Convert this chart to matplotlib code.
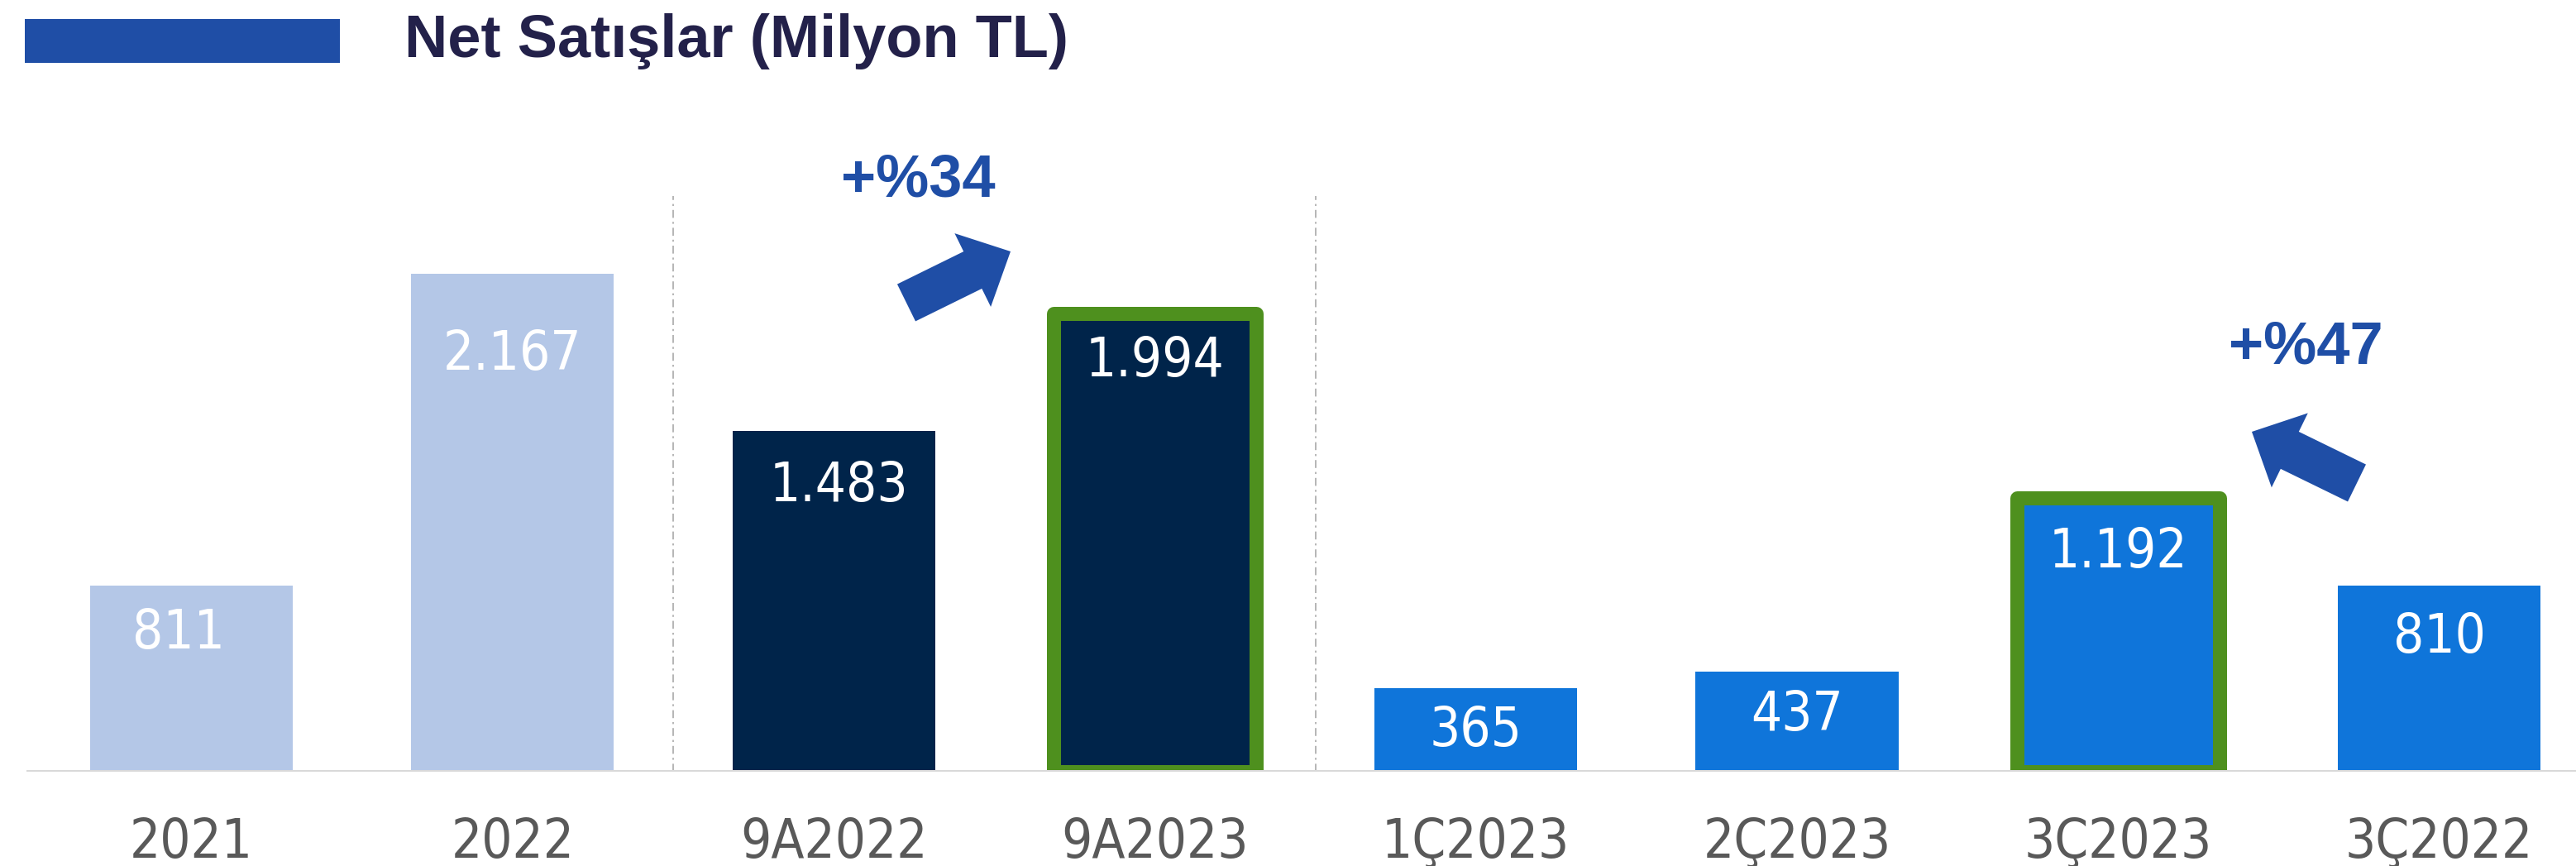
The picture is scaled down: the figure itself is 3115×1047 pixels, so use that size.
import matplotlib
matplotlib.use("Agg")
import matplotlib.pyplot as plt
from matplotlib.patches import FancyArrow, Rectangle
from matplotlib.transforms import IdentityTransform

# veriler
kategoriler = ["2021", "2022", "9A2022", "9A2023", "1Ç2023", "2Ç2023", "3Ç2023", "3Ç2022"]
satislar = [811, 2167, 1483, 1994, 365, 437, 1192, 810]
etiketler = ["811", "2.167", "1.483", "1.994", "365", "437", "1.192", "810"]
vurgulu = [False, False, False, True, False, False, True, False]
artis_1 = "+%34"
artis_2 = "+%47"
baslik = "Net Satışlar (Milyon TL)"

renkler = ["#b4c7e7", "#b4c7e7", "#00244a", "#00244a",
           "#0f75da", "#0f75da", "#0f75da", "#0f75da"]

W, H = 3115, 1047
fig = plt.figure(figsize=(W / 100, H / 100), dpi=100)
fig.patch.set_facecolor("white")

taban = 933          # px, sifir cizgisi
olcek = 0.2776       # px / birim
adim = 388.3         # px, cubuklar arasi
ilk = 231.5          # px, ilk cubugun merkezi

ax = fig.add_axes([0, (H - taban) / H, 1, taban / H])
ax.set_xlim(-ilk / adim, (W - ilk) / adim)
ax.set_ylim(0, taban / olcek)
for s in ax.spines.values():
    s.set_visible(False)
ax.set_yticks([])

x = list(range(len(kategoriler)))
px = 72 / 100  # 1 piksel = 0.72 pt
kenar = ["#4e901e" if v else "none" for v in vurgulu]
kalin = [17 * px if v else 0 for v in vurgulu]
cubuklar = ax.bar(x, satislar, width=0.631, color=renkler,
                  edgecolor=kenar, linewidth=kalin, zorder=2)
for c in cubuklar:
    c.set_joinstyle("round")

# taban cizgisi
ax.axhline(0, xmin=34 / W, xmax=1, color="#d9d9d9", lw=5 * px, zorder=4)

# kesikli ayiraclar
ax.vlines([1.5, 3.5], 0, 2507, colors="#a6a6a6", lw=1.6 * px,
          linestyles=(0, (6, 3, 1.5, 3)), zorder=1)

yazi = dict(family="DejaVu Sans", fontstretch="condensed")

# deger etiketleri
dusus = [52, 92, 61, 52, 46, 47, 60, 57]
kayma = [-16, 0, 6, 0, 0, 0, 0, 0]
for i, (v, e) in enumerate(zip(satislar, etiketler)):
    ax.annotate(e, (i, v), xytext=(kayma[i], -(dusus[i] + 24)),
                textcoords="offset pixels", ha="center", va="baseline",
                color="white", fontsize=47, zorder=5, **yazi)

ax.set_xticks(x)
ax.set_xticklabels(kategoriler, color="#595959", fontsize=47, **yazi)
ax.tick_params(axis="x", length=0, pad=39)

# baslik
fig.add_artist(Rectangle((30 / W, 1 - 76 / H), 381 / W, 53 / H,
                         transform=fig.transFigure, color="#1f4ea6", lw=0))
fig.text(489 / W, 1 - 69 / H, baslik, fontsize=52, fontweight="bold",
         family="Liberation Sans", color="#23214a", ha="left", va="baseline")

# artis oklari ve yuzdeler
mavi = "#1f4ea6"
fig.add_artist(FancyArrow(1096, H - 366, 126, 62, width=50, head_width=99,
                          head_length=51, length_includes_head=True,
                          color=mavi, lw=0, transform=IdentityTransform()))
fig.add_artist(FancyArrow(2850, H - 584, -127, 62, width=50, head_width=100,
                          head_length=51, length_includes_head=True,
                          color=mavi, lw=0, transform=IdentityTransform()))
fig.text(1110 / W, 1 - 237 / H, artis_1, fontsize=52, fontweight="bold",
         family="Liberation Sans", color=mavi, ha="center", va="baseline")
fig.text(2788 / W, 1 - 440 / H, artis_2, fontsize=52, fontweight="bold",
         family="Liberation Sans", color=mavi, ha="center", va="baseline")

fig.savefig("out.png", dpi=100, facecolor="white")
